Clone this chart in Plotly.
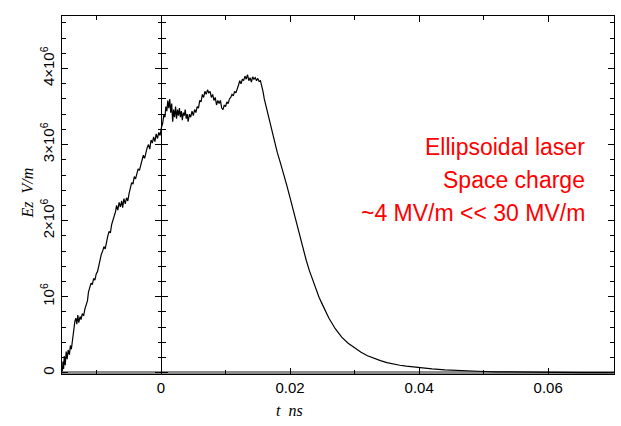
import plotly.graph_objects as go

# Time axis (ns) and longitudinal field Ez (units of 1e6 V/m)
t_ns = [
    -0.01530, -0.01520, -0.01510, -0.01500, -0.01485, -0.01470, -0.01455, -0.01440,
    -0.01420, -0.01405, -0.01390, -0.01370, -0.01350, -0.01335, -0.01320, -0.01305,
    -0.01290, -0.01275, -0.01255, -0.01240, -0.01220, -0.01200, -0.01180, -0.01160,
    -0.01140, -0.01125, -0.01105, -0.01085, -0.01065, -0.01045, -0.01025, -0.01005,
    -0.00985, -0.00965, -0.00945, -0.00925, -0.00905, -0.00885, -0.00865, -0.00845,
    -0.00825, -0.00805, -0.00785, -0.00765, -0.00745, -0.00725, -0.00705, -0.00690,
    -0.00670, -0.00650, -0.00630, -0.00610, -0.00595, -0.00575, -0.00555, -0.00535,
    -0.00515, -0.00495, -0.00475, -0.00455, -0.00435, -0.00415, -0.00395, -0.00375,
    -0.00355, -0.00335, -0.00315, -0.00295, -0.00275, -0.00255, -0.00235, -0.00215,
    -0.00195, -0.00175, -0.00155, -0.00135, -0.00115, -0.00095, -0.00075, -0.00055,
    -0.00035, -0.00015, 0.00005, 0.00025, 0.00045, 0.00060, 0.00075, 0.00090,
    0.00105, 0.00120, 0.00135, 0.00150, 0.00165, 0.00180, 0.00195, 0.00210,
    0.00225, 0.00240, 0.00255, 0.00270, 0.00285, 0.00300, 0.00315, 0.00330,
    0.00345, 0.00360, 0.00375, 0.00390, 0.00405, 0.00420, 0.00440, 0.00460,
    0.00480, 0.00500, 0.00520, 0.00540, 0.00560, 0.00580, 0.00600, 0.00620,
    0.00640, 0.00660, 0.00680, 0.00700, 0.00720, 0.00740, 0.00760, 0.00780,
    0.00800, 0.00820, 0.00840, 0.00860, 0.00880, 0.00900, 0.00920, 0.00940,
    0.00960, 0.00980, 0.01000, 0.01020, 0.01040, 0.01060, 0.01080, 0.01100,
    0.01120, 0.01140, 0.01160, 0.01180, 0.01200, 0.01220, 0.01240, 0.01260,
    0.01280, 0.01300, 0.01320, 0.01340, 0.01360, 0.01380, 0.01400, 0.01420,
    0.01440, 0.01460, 0.01480, 0.01500, 0.01520, 0.01540, 0.01560, 0.01580,
    0.01600, 0.01640, 0.01680, 0.01720, 0.01760, 0.01800, 0.01850, 0.01900,
    0.01950, 0.02000, 0.02050, 0.02100, 0.02150, 0.02200, 0.02250, 0.02300,
    0.02350, 0.02400, 0.02450, 0.02500, 0.02600, 0.02700, 0.02800, 0.02900,
    0.03000, 0.03100, 0.03200, 0.03300, 0.03400, 0.03500, 0.03600, 0.03700,
    0.03800, 0.03900, 0.04000, 0.04200, 0.04400, 0.04600, 0.04800, 0.05000,
    0.05200, 0.05500, 0.06000, 0.06500, 0.07000,
]

ez_mv = [
    0.02, 0.15, 0.05, 0.22, 0.10, 0.28, 0.18, 0.30,
    0.24, 0.36, 0.31, 0.48, 0.58, 0.68, 0.72, 0.64,
    0.76, 0.66, 0.74, 0.70, 0.78, 0.75, 0.84, 0.90,
    0.95, 1.06, 1.14, 1.18, 1.16, 1.24, 1.22, 1.30,
    1.33, 1.42, 1.48, 1.56, 1.60, 1.66, 1.63, 1.74,
    1.80, 1.86, 1.84, 1.95, 2.00, 2.08, 2.12, 2.20,
    2.14, 2.24, 2.18, 2.26, 2.17, 2.29, 2.22, 2.30,
    2.26, 2.36, 2.44, 2.50, 2.48, 2.58, 2.55, 2.64,
    2.68, 2.66, 2.72, 2.80, 2.86, 2.82, 2.90, 2.96,
    3.00, 2.94, 3.06, 3.02, 3.10, 3.04, 3.14, 3.08,
    3.16, 3.12, 3.22, 3.28, 3.40, 3.36, 3.50, 3.44,
    3.58, 3.48, 3.60, 3.42, 3.54, 3.30, 3.46, 3.36,
    3.50, 3.34, 3.46, 3.38, 3.48, 3.36, 3.44, 3.32,
    3.42, 3.38, 3.46, 3.34, 3.40, 3.30, 3.40, 3.36,
    3.44, 3.38, 3.46, 3.42, 3.50, 3.48, 3.58, 3.56,
    3.66, 3.62, 3.70, 3.66, 3.72, 3.68, 3.70, 3.62,
    3.66, 3.58, 3.62, 3.52, 3.58, 3.54, 3.58, 3.48,
    3.46, 3.52, 3.50, 3.56, 3.54, 3.60, 3.62, 3.66,
    3.64, 3.70, 3.68, 3.72, 3.78, 3.84, 3.80, 3.86,
    3.84, 3.90, 3.86, 3.92, 3.84, 3.88, 3.82, 3.89,
    3.86, 3.88, 3.84, 3.87, 3.83, 3.84, 3.78, 3.70,
    3.60, 3.46, 3.30, 3.14, 3.02, 2.90, 2.76, 2.62,
    2.46, 2.30, 2.13, 1.95, 1.78, 1.62, 1.48, 1.34,
    1.22, 1.10, 0.99, 0.90, 0.72, 0.58, 0.47, 0.39,
    0.33, 0.27, 0.225, 0.19, 0.16, 0.135, 0.115, 0.10,
    0.088, 0.078, 0.068, 0.052, 0.040, 0.030, 0.023, 0.018,
    0.014, 0.010, 0.006, 0.004, 0.003,
]

x_ticks = [0, 0.02, 0.04, 0.06]
x_ticktext = ["0", "0.02", "0.04", "0.06"]
y_ticks_mv = [0, 1, 2, 3, 4]
y_ticktext = ["0", "10<sup>6</sup>", "2×10<sup>6</sup>", "3×10<sup>6</sup>", "4×10<sup>6</sup>"]

note_lines = ["Ellipsoidal laser", "Space charge", "~4 MV/m << 30 MV/m"]

ez = [v * 1e6 for v in ez_mv]
y_ticks = [v * 1e6 for v in y_ticks_mv]

x_range = [-0.01535, 0.0702]
y_range = [-0.015e6, 4.69e6]
# paper position of t = 0 for the inner axis line
zero_pos = (0 - x_range[0]) / (x_range[1] - x_range[0])

tick_font = dict(family="Liberation Sans", size=15, color="black")

fig = go.Figure()
fig.add_trace(go.Scatter(x=t_ns, y=ez, mode="lines",
                         line=dict(color="black", width=1.2), hoverinfo="skip"))
# empty traces that attach the two inner axes at t = 0
fig.add_trace(go.Scatter(x=[], y=[], yaxis="y2", showlegend=False))
fig.add_trace(go.Scatter(x=[], y=[], yaxis="y3", showlegend=False))

inner_axis = dict(
    overlaying="y", anchor="free", position=zero_pos, range=y_range,
    tickvals=y_ticks, showticklabels=False, showline=True, linecolor="black",
    linewidth=1, tickcolor="black", ticklen=6, showgrid=False, zeroline=False,
)

fig.update_layout(
    width=621, height=426,
    margin=dict(l=62, r=7, t=16, b=52),
    paper_bgcolor="white", plot_bgcolor="white",
    showlegend=False,
    xaxis=dict(
        range=x_range, tickvals=x_ticks, ticktext=x_ticktext,
        ticks="inside", ticklen=6, tickcolor="black",
        minor=dict(tickvals=[-0.01, 0.01, 0.03, 0.05], ticks="inside",
                   ticklen=4, tickcolor="black"),
        showline=True, linecolor="black", linewidth=1, mirror="ticks",
        showgrid=False, zeroline=False, tickfont=tick_font,
    ),
    yaxis=dict(
        range=y_range, tickvals=y_ticks, ticktext=y_ticktext, tickangle=-90,
        ticks="inside", ticklen=6, tickcolor="black",
        minor=dict(dtick=2e5, tick0=0, ticks="inside", ticklen=4, tickcolor="black"),
        showline=True, linecolor="black", linewidth=1, mirror="ticks",
        showgrid=False, zeroline=True, zerolinecolor="#8c8c8c", zerolinewidth=3,
        tickfont=tick_font, ticklabelstandoff=1,
    ),
    yaxis2=dict(ticks="outside",
                minor=dict(dtick=2e5, tick0=0, ticks="outside", ticklen=3,
                           tickcolor="black"),
                **inner_axis),
    yaxis3=dict(ticks="inside",
                minor=dict(dtick=2e5, tick0=0, ticks="inside", ticklen=4,
                           tickcolor="black"),
                **inner_axis),
)

fig.add_annotation(text="<i>t  ns</i>", xref="paper", yref="paper",
                   x=0.412, y=-0.101, xanchor="center", yanchor="middle",
                   showarrow=False,
                   font=dict(family="Liberation Serif", size=16, color="black"))
fig.add_annotation(text="<i>Ez  V/m</i>", xref="paper", yref="paper",
                   x=-0.063, y=0.505, xanchor="center", yanchor="middle",
                   textangle=-90, showarrow=False,
                   font=dict(family="Liberation Serif", size=16, color="black"))

for line, ypos in zip(note_lines, [0.634, 0.542, 0.450]):
    fig.add_annotation(text=line, xref="paper", yref="paper",
                       x=0.951, y=ypos, xanchor="right", yanchor="middle",
                       showarrow=False,
                       font=dict(family="Liberation Sans", size=23, color="#ff0000"))

fig.write_html("out.html")
